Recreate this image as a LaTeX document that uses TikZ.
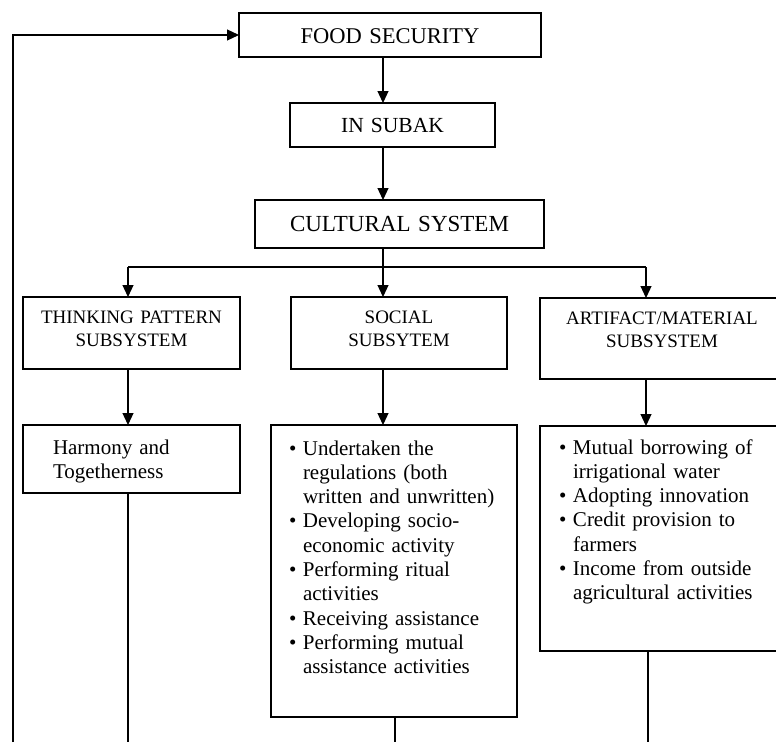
\documentclass[tikz,border=0pt]{standalone}
\usepackage{fontspec}
\setmainfont{Liberation Serif}
\usepackage{tikz}
\usetikzlibrary{arrows.meta}

\newcommand\topfont{\fontsize{22.5}{25}\selectfont}
\newcommand\midfont{\fontsize{21.5}{24}\selectfont}
\newcommand\bigfont{\fontsize{23}{26}\selectfont}
\newcommand\subfont{\fontsize{19}{23}\selectfont}
\newcommand\bodyfont{\fontsize{21}{24.3}\selectfont}
\newcommand\bitem[1]{\hangindent=14pt\hangafter=1\noindent\makebox[14pt][l]{\textbullet}#1\par}

\begin{document}
\begin{tikzpicture}[x=1pt, y=-1pt, >={Triangle[length=12pt, width=11pt]},
  box/.style={draw, line width=1.5pt, inner ysep=0pt, outer sep=0pt, anchor=north west},
  head/.style={box, inner xsep=4pt, align=center},
  list/.style={box, align=left, font=\bodyfont},
  link/.style={line width=1.2pt}]
  \useasboundingbox (0,0) rectangle (776,742);
  \clip (0,0) rectangle (776,742);
  % top chain
  \node[head, font=\topfont, text width=294pt, text height=30pt, text depth=14pt] (food) at (239,13) {FOOD SECURITY};
  \node[head, font=\midfont, text width=197pt, text height=29pt, text depth=15pt] (subak) at (290,103) {IN SUBAK};
  \node[head, font=\bigfont, text width=281pt, text height=31.6pt, text depth=16.4pt] (cultural) at (255,200) {CULTURAL SYSTEM};
  % subsystems
  \node[head, font=\subfont, text width=209pt, text height=26pt, text depth=46pt] (thinking) at (23,297) {THINKING PATTERN\\SUBSYSTEM};
  \node[head, font=\subfont, text width=208pt, text height=26pt, text depth=46pt] (social) at (291,297) {SOCIAL\\SUBSYTEM};
  \node[head, font=\subfont, text width=236pt, text height=26pt, text depth=55pt] (artifact) at (540,298) {ARTIFACT/MATERIAL\\SUBSYSTEM};
  % contents
  \node[list, inner xsep=30pt, text width=157pt, text height=29pt, text depth=39pt] (harmony) at (23,425) {Harmony and\newline Togetherness};
  \node[list, inner xsep=18pt, text width=210pt, text height=30pt, text depth=262pt] (soclist) at (271,425) {%
    \bitem{Undertaken the\newline regulations (both\newline written and unwritten)}%
    \bitem{Developing socio-\newline economic activity}%
    \bitem{Performing ritual\newline activities}%
    \bitem{Receiving assistance}%
    \bitem{Performing mutual\newline assistance activities}};
  \node[list, inner xsep=19pt, text width=206pt, text height=28pt, text depth=197pt] (artlist) at (540,426) {%
    \bitem{Mutual borrowing of\newline irrigational water}%
    \bitem{Adopting innovation}%
    \bitem{Credit provision to\newline farmers}%
    \bitem{Income from outside\newline agricultural activities}};
  % connector columns
  \coordinate (spine) at (383,0);
  \coordinate (split) at (383,267);
  \coordinate (colA) at (128,267);
  \coordinate (colC) at (646,267);
  \coordinate (baseA) at (128,742);
  \coordinate (baseB) at (395,742);
  \coordinate (baseC) at (648,742);
  \coordinate (loop) at (13,742);
  \draw[link, ->] (food.south -| spine) -- (subak.north -| spine);
  \draw[link, ->] (subak.south -| spine) -- (cultural.north -| spine);
  \draw[link] (cultural.south -| spine) -- (split);
  \draw[link] (colA) -- (colC);
  \draw[link, ->] (colA) -- (thinking.north -| colA);
  \draw[link, ->] (split) -- (social.north -| split);
  \draw[link, ->] (colC) -- (artifact.north -| colC);
  \draw[link, ->] (thinking.south -| colA) -- (harmony.north -| colA);
  \draw[link, ->] (social.south -| split) -- (soclist.north -| split);
  \draw[link, ->] (artifact.south -| colC) -- (artlist.north -| colC);
  % lines running off the page
  \draw[link] (harmony.south -| baseA) -- (baseA);
  \draw[link] (soclist.south -| baseB) -- (baseB);
  \draw[link] (artlist.south -| baseC) -- (baseC);
  \draw[link, ->] (loop) |- (food.west);
\end{tikzpicture}
\end{document}
